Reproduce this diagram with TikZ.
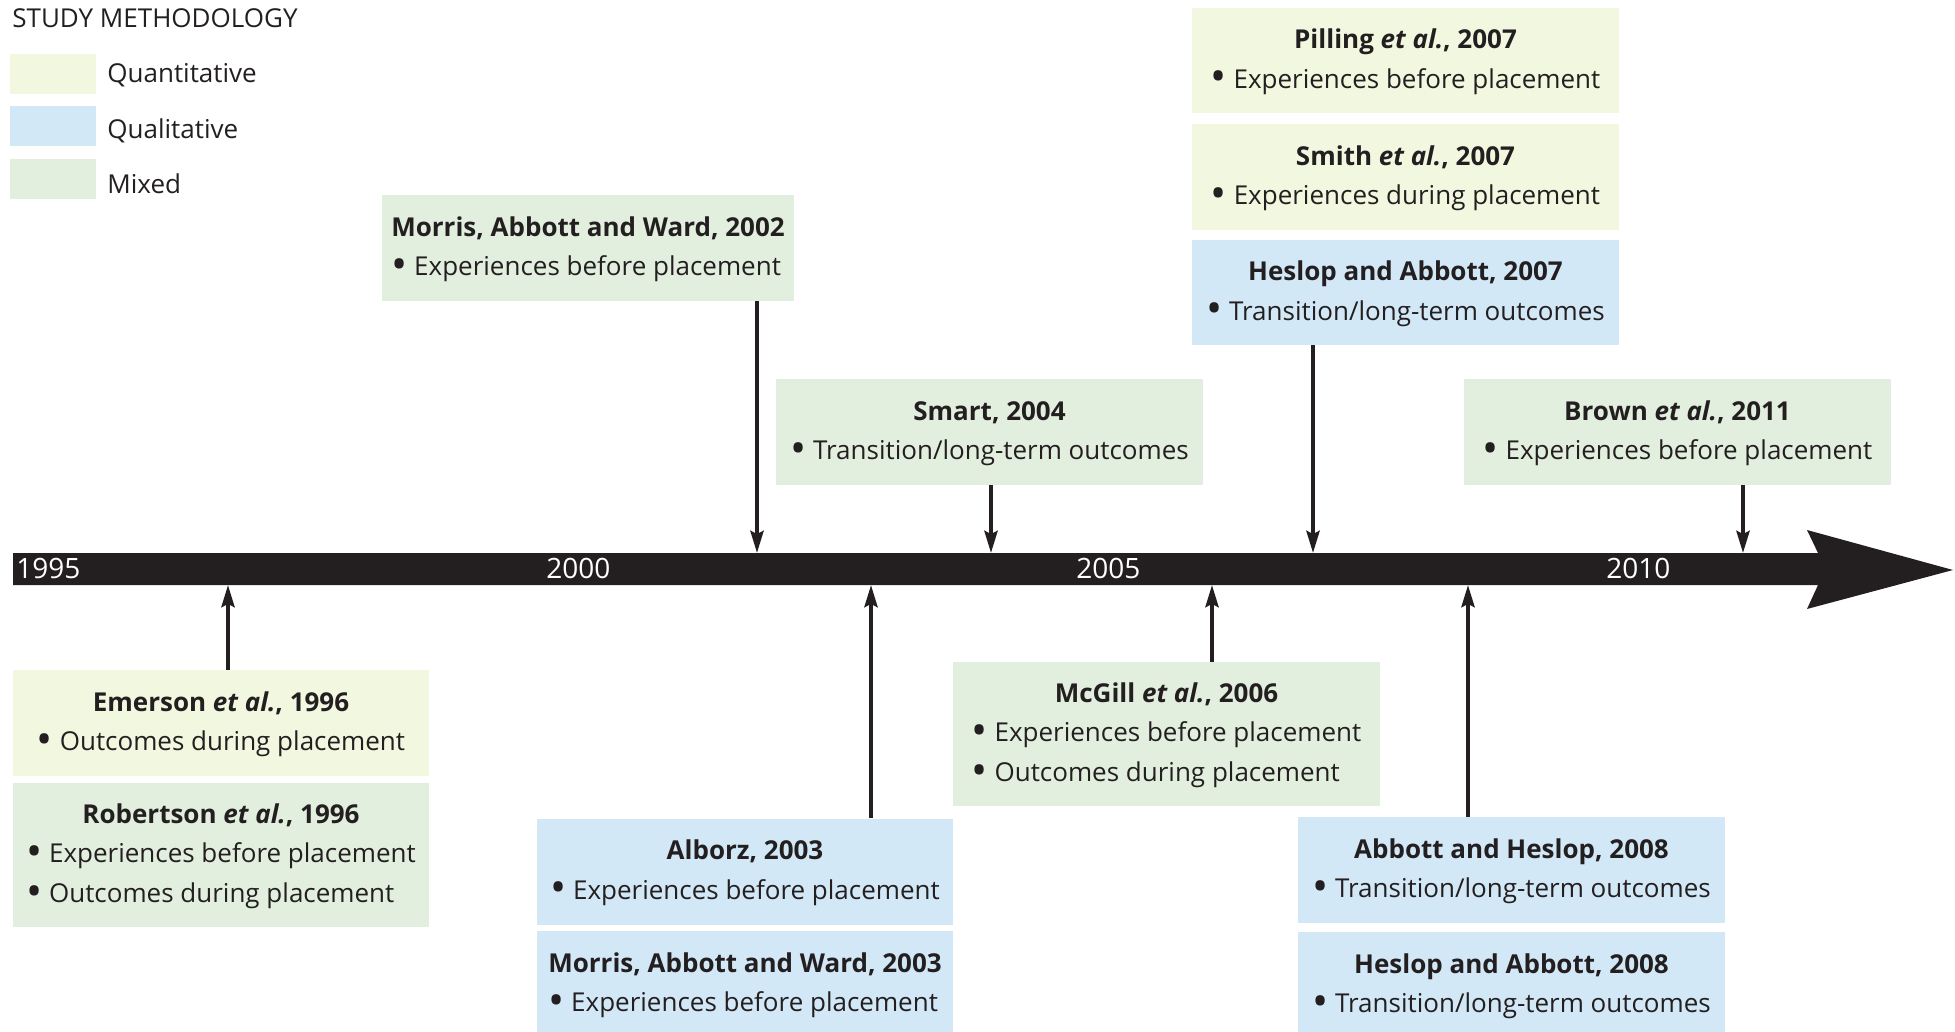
\documentclass[tikz,border=0pt]{standalone}
\usepackage{fontspec}
\setmainfont{Open Sans}
\usetikzlibrary{positioning,arrows.meta}

\definecolor{quantcol}{HTML}{F2F7E0}
\definecolor{qualcol}{HTML}{D3E8F6}
\definecolor{mixedcol}{HTML}{E3EFDE}
\definecolor{inkcol}{HTML}{231F20}

\newcommand{\study}[2]{\begin{tabular}{@{}l@{}}\multicolumn{1}{@{}c@{}}{\bfseries #1}\\ #2\end{tabular}}
\newcommand{\itm}[1]{\raisebox{-0.14em}{\scalebox{1.65}{\textbullet}}\ #1}

\begin{document}
\begin{tikzpicture}[x=0.5pt, y=-0.5pt,
   every node/.style={text=inkcol, font=\fontsize{13}{19.75}\selectfont},
   study_box/.style={rectangle, inner sep=0pt, minimum width=213.5pt, minimum height=53pt},
   quant_box/.style={study_box, fill=quantcol},
   qual_box/.style={study_box, fill=qualcol},
   mixed_box/.style={study_box, fill=mixedcol},
   swatch/.style={rectangle, inner sep=0pt, minimum width=43pt, minimum height=20pt},
   key_label/.style={anchor=base west, inner sep=0pt},
   year_label/.style={anchor=base west, inner sep=0pt, text=white, font=\fontsize{14}{16}\selectfont},
   link/.style={draw=inkcol, line width=2pt, -{Stealth[length=11pt,width=6.5pt,inset=1.5pt]}}]
	\useasboundingbox (0,0) rectangle (1955,1032);

	% legend
	\node [anchor=base west, inner sep=0pt] (key_title) at (12,28) {STUDY METHODOLOGY};
	\node [swatch, fill=quantcol] (key_quant) at (53,74) {};
	\node [swatch, fill=qualcol] (key_qual) at (53,126) {};
	\node [swatch, fill=mixedcol] (key_mixed) at (53,179) {};
	\node [key_label] (lbl_quant) at (107,83) {Quantitative};
	\node [key_label] (lbl_qual) at (107,139) {Qualitative};
	\node [key_label] (lbl_mixed) at (107,194) {Mixed};

	% timeline
	\fill [inkcol] (13,553) -- (1818,553) -- (1807,530) -- (1953,570)
	   -- (1807,609) -- (1818,585) -- (13,585) -- cycle;
	\foreach \yr [count=\i from 0] in {1995,2000,2005,2010}
	  \node [year_label] (y\yr) at (16+530*\i,578) {\yr};

	% studies above the line
	\node [mixed_box, minimum width=206pt] (morris02) at (588,248)
	  {\study{Morris, Abbott and Ward, 2002}{\itm{Experiences before placement}}};
	\node [mixed_box] (smart04) at (989.5,432)
	  {\study{Smart, 2004}{\itm{Transition/long-term outcomes}}};
	\node [quant_box, minimum height=52.5pt] (pilling07) at (1405.5,60.5)
	  {\study{Pilling \textit{et al.}, 2007}{\itm{Experiences before placement}}};
	\node [quant_box] (smith07) at (1405.5,177)
	  {\study{Smith \textit{et al.}, 2007}{\itm{Experiences during placement}}};
	\node [qual_box, minimum height=52.5pt] (heslop07) at (1405.5,292.5)
	  {\study{Heslop and Abbott, 2007}{\itm{Transition/long-term outcomes}}};
	\node [mixed_box] (brown11) at (1677.5,432)
	  {\study{Brown \textit{et al.}, 2011}{\itm{Experiences before placement}}};

	% studies below the line
	\node [quant_box, minimum width=208pt] (emerson96) at (221,723)
	  {\study{Emerson \textit{et al.}, 1996}{\itm{Outcomes during placement}}};
	\node [mixed_box, minimum width=208pt, minimum height=72pt] (robertson96) at (221,855)
	  {\study{Robertson \textit{et al.}, 1996}{\itm{Experiences before placement}\\ \itm{Outcomes during placement}}};
	\node [qual_box, minimum width=208pt] (alborz03) at (745,871.5)
	  {\study{Alborz, 2003}{\itm{Experiences before placement}}};
	\node [qual_box, minimum width=208pt] (morris03) at (745,984)
	  {\study{Morris, Abbott and Ward, 2003}{\itm{Experiences before placement}}};
	\node [mixed_box, minimum height=72pt] (mcgill06) at (1166.5,734)
	  {\study{McGill \textit{et al.}, 2006}{\itm{Experiences before placement}\\ \itm{Outcomes during placement}}};
	\node [qual_box] (abbott08) at (1511.5,870)
	  {\study{Abbott and Heslop, 2008}{\itm{Transition/long-term outcomes}}};
	\node [qual_box] (heslop08) at (1511.5,985)
	  {\study{Heslop and Abbott, 2008}{\itm{Transition/long-term outcomes}}};

	% arrow ends on the bar
	\coordinate (t_morris02) at (757,553);
	\coordinate (t_smart04) at (991,553);
	\coordinate (t_heslop07) at (1313,553);
	\coordinate (t_brown11) at (1743,553);
	\coordinate (t_emerson96) at (228,585);
	\coordinate (t_alborz03) at (871,585);
	\coordinate (t_mcgill06) at (1212,585);
	\coordinate (t_abbott08) at (1468,585);

	\foreach \from/\to in {morris02/t_morris02, smart04/t_smart04, heslop07/t_heslop07, brown11/t_brown11}
	  \draw [link] (\from.south -| \to) -- (\to);
	\foreach \from/\to in {emerson96/t_emerson96, alborz03/t_alborz03, mcgill06/t_mcgill06, abbott08/t_abbott08}
	  \draw [link] (\from.north -| \to) -- (\to);

\end{tikzpicture}
\end{document}
